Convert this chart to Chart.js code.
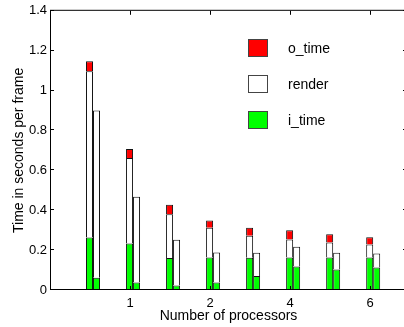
<!DOCTYPE html>
<html>
<head>
<meta charset="utf-8">
<script src="https://cdn.jsdelivr.net/npm/chart.js@4"></script>
<style>
  html, body { margin: 0; padding: 0; background: #fff; overflow: hidden; }
  #wrap { width: 404px; height: 327px; overflow: hidden; }
</style>
</head>
<body>
<div id="wrap"><canvas id="chart" width="412" height="327"></canvas></div>
<script>
// group positions on the x axis (ticks at 1..4 are labelled 1, 2, 4, 6)
const groupPositions = [0.5375, 1.0375, 1.5375, 2.0375, 2.5375, 3.0375, 3.5375, 4.0375]

const seriesNames = ["i_time", "render", "o_time"]
const seriesColors = ["#00ff00", "#ffffff", "#ff0000"]

// left bar of each pair
const leftITime = [0.263, 0.233, 0.16, 0.163, 0.162, 0.163, 0.163, 0.163]
const leftRender = [0.834, 0.429, 0.22, 0.149, 0.11, 0.09, 0.075, 0.065]
const leftOTime = [0.05, 0.045, 0.048, 0.036, 0.04, 0.047, 0.042, 0.037]

// right bar of each pair (no o_time part)
const rightITime = [0.062, 0.037, 0.023, 0.037, 0.07, 0.118, 0.103, 0.113]
const rightRender = [0.838, 0.43, 0.229, 0.151, 0.117, 0.099, 0.084, 0.07]

const xTickValues = [1, 2, 3, 4]
const xTickLabels = ["1", "2", "4", "6"]
const yTickValues = [0, 0.2, 0.4, 0.6, 0.8, 1, 1.2, 1.4]

const FONT = "'Liberation Sans', Arial, Helvetica, sans-serif"

function toPoints(values) {
  return values.map((v, i) => ({ x: groupPositions[i], y: v }))
}

function barSet(label, values, colorIndex, stack) {
  return {
    label: label,
    data: toPoints(values),
    stack: stack,
    backgroundColor: seriesColors[colorIndex],
    borderColor: "#111111",
    borderWidth: 1,
    borderSkipped: "start",
    categoryPercentage: 0.35,
    barPercentage: 1,
  }
}

// frame with inward ticks on all sides, plus the legend inside the plot
const matlabFrame = {
  id: "matlabFrame",
  afterDraw(chart) {
    const { ctx, chartArea: a, scales } = chart
    const tl = 4
    ctx.save()
    ctx.strokeStyle = "#000000"
    ctx.lineWidth = 1
    ctx.beginPath()
    ctx.moveTo(a.left + 0.5, a.top - 0.5)
    ctx.lineTo(a.left + 0.5, a.bottom - 0.5)
    ctx.lineTo(a.right, a.bottom - 0.5)
    ctx.moveTo(a.left, a.top - 0.5)
    ctx.lineTo(a.right, a.top - 0.5)
    ctx.moveTo(a.right - 0.5, a.top)
    ctx.lineTo(a.right - 0.5, a.bottom)
    xTickValues.forEach((v) => {
      const px = Math.round(scales.x.getPixelForValue(v)) + 0.5
      ctx.moveTo(px, a.bottom)
      ctx.lineTo(px, a.bottom - tl)
      ctx.moveTo(px, a.top)
      ctx.lineTo(px, a.top + tl)
    })
    yTickValues.forEach((v) => {
      const py = Math.round(scales.y.getPixelForValue(v)) - 0.5
      ctx.moveTo(a.left, py)
      ctx.lineTo(a.left + tl, py)
      ctx.moveTo(a.right, py)
      ctx.lineTo(a.right - tl, py)
    })
    ctx.stroke()

    // legend: top entry is the top of the stack
    const order = [2, 1, 0]
    ctx.font = "14px " + FONT
    ctx.textBaseline = "middle"
    ctx.textAlign = "left"
    order.forEach((si, row) => {
      const cy = 48 + row * 36
      ctx.fillStyle = seriesColors[si]
      ctx.fillRect(248, cy - 9, 20, 18)
      ctx.strokeStyle = "#444444"
      ctx.strokeRect(248.5, cy - 8.5, 19, 17)
      ctx.fillStyle = "#000000"
      ctx.fillText(seriesNames[si], 288, cy + 1)
    })
    ctx.restore()
  },
}

new Chart(document.getElementById("chart"), {
  type: "bar",
  data: {
    datasets: [
      barSet(seriesNames[0], leftITime, 0, "left"),
      barSet(seriesNames[1], leftRender, 1, "left"),
      barSet(seriesNames[2], leftOTime, 2, "left"),
      barSet(seriesNames[0], rightITime, 0, "right"),
      barSet(seriesNames[1], rightRender, 1, "right"),
    ],
  },
  options: {
    responsive: false,
    animation: false,
    layout: { padding: { top: 10, right: 5, left: 0, bottom: 0 } },
    plugins: {
      legend: { display: false },
      tooltip: { enabled: false },
    },
    scales: {
      x: {
        type: "linear",
        stacked: true,
        min: 0,
        max: 4.46,
        offset: false,
        grid: { display: false, drawTicks: false, offset: false },
        border: { display: false },
        afterBuildTicks: (scale) => {
          scale.ticks = xTickValues.map((v) => ({ value: v }))
        },
        afterFit: (scale) => {
          scale.height = 37
        },
        ticks: {
          color: "#000000",
          font: { family: FONT, size: 13 },
          padding: 6,
          maxRotation: 0,
          callback: (v) => xTickLabels[xTickValues.indexOf(v)],
        },
        title: {
          display: true,
          text: "Number of processors",
          color: "#000000",
          font: { family: FONT, size: 14 },
          padding: { top: 0, bottom: 2 },
        },
      },
      y: {
        stacked: true,
        min: 0,
        max: 1.4,
        grid: { display: false, drawTicks: false },
        border: { display: false },
        afterBuildTicks: (scale) => {
          scale.ticks = yTickValues.map((v) => ({ value: v }))
        },
        afterFit: (scale) => {
          scale.width = 50
        },
        ticks: {
          color: "#000000",
          font: { family: FONT, size: 13 },
          padding: 3,
          callback: (v) => String(v),
        },
        title: {
          display: true,
          text: "Time in seconds per frame",
          color: "#000000",
          font: { family: FONT, size: 14 },
          padding: { top: 11, bottom: 0 },
        },
      },
    },
  },
  plugins: [matlabFrame],
})
</script>
</body>
</html>
